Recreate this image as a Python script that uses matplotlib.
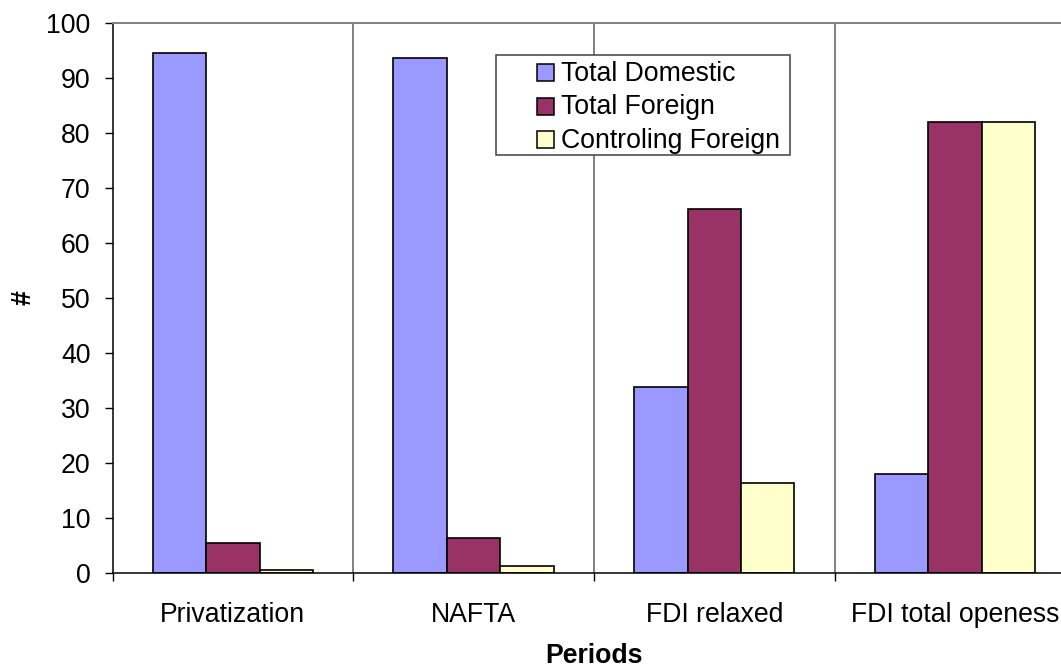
import matplotlib
matplotlib.use("Agg")
import matplotlib.pyplot as plt
from matplotlib.patches import Rectangle
import numpy as np

# Data
periods = ["Privatization", "NAFTA", "FDI relaxed", "FDI total openess"]
total_domestic = [94.5, 93.6, 33.9, 18.0]
total_foreign = [5.5, 6.4, 66.2, 82.0]
controling_foreign = [0.6, 1.3, 16.4, 82.0]
series_names = ["Total Domestic", "Total Foreign", "Controling Foreign"]
series_colors = ["#9999FF", "#993366", "#FFFFCC"]
y_ticks = list(range(0, 101, 10))

plt.rcParams["font.family"] = ["Liberation Sans", "DejaVu Sans"]
FS = 19.2

W, H = 1061, 668
fig = plt.figure(figsize=(W / 100, H / 100), dpi=100)
fig.patch.set_facecolor("white")

# plot area (extends slightly past the right edge of the canvas)
ax = fig.add_axes([112.5 / W, 95 / H, 962.8 / W, 550 / H])
ax.set_xlim(0, len(periods))
ax.set_ylim(0, 100)

bar_w = 2 / 9
series = [total_domestic, total_foreign, controling_foreign]
centers = np.arange(len(periods)) + 0.5
for j, (vals, col) in enumerate(zip(series, series_colors)):
    ax.bar(centers + (j - 1) * bar_w, vals, width=bar_w, color=col,
           edgecolor="black", linewidth=1.2, zorder=3, label=series_names[j])

# category separators
for b in range(1, len(periods)):
    ax.axvline(b, color="#808080", linewidth=1.4, zorder=1)

# spines
ax.spines["left"].set_color("black")
ax.spines["left"].set_linewidth(1.1)
ax.spines["bottom"].set_color("black")
ax.spines["bottom"].set_linewidth(1.1)
ax.spines["bottom"].set_zorder(5)
ax.spines["top"].set_color("#808080")
ax.spines["top"].set_linewidth(1.4)
ax.spines["right"].set_visible(False)

# y axis
ax.set_yticks(y_ticks)
ax.set_yticklabels([str(t) for t in y_ticks], fontsize=FS)
ax.tick_params(axis="y", direction="out", length=5.8, width=1.0, pad=10,
               color="black")

# x axis: boundary ticks unlabeled, labels at category centers
ax.set_xticks(np.arange(0, len(periods) + 1))
ax.set_xticklabels([])
ax.tick_params(axis="x", which="major", direction="out", length=5.8,
               width=1.0, color="black")
ax.set_xticks(centers, minor=True)
ax.set_xticklabels(periods, minor=True, fontsize=FS)
ax.tick_params(axis="x", which="minor", length=0, pad=21)

ax.set_ylabel("#", fontsize=FS, fontweight="bold", ha="center", va="center")
ax.yaxis.set_label_coords((23 - 112.5) / 962.8, 0.5)
ax.set_xlabel("Periods", fontsize=FS, fontweight="bold")
ax.xaxis.set_label_coords(0.5, -(663 - 573) / 550)
ax.xaxis.label.set_va("baseline")


def fx(px):
    return px / W


def fy(py):
    return (H - py) / H


# legend box
fig.patches.append(Rectangle((fx(496), fy(155)), fx(790) - fx(496),
                             fy(55) - fy(155), transform=fig.transFigure,
                             facecolor="white", edgecolor="#404040",
                             linewidth=1.1, zorder=10))
baselines = [81, 114.5, 148]
for name, col, bl in zip(series_names, series_colors, baselines):
    fig.patches.append(Rectangle((fx(537), fy(bl)), fx(554) - fx(537),
                                 fy(bl - 17) - fy(bl), transform=fig.transFigure,
                                 facecolor=col, edgecolor="black",
                                 linewidth=1.1, zorder=11))
    fig.text(fx(561), fy(bl), name, fontsize=FS, va="baseline", ha="left",
             zorder=12)

fig.savefig("out.png", dpi=100)
